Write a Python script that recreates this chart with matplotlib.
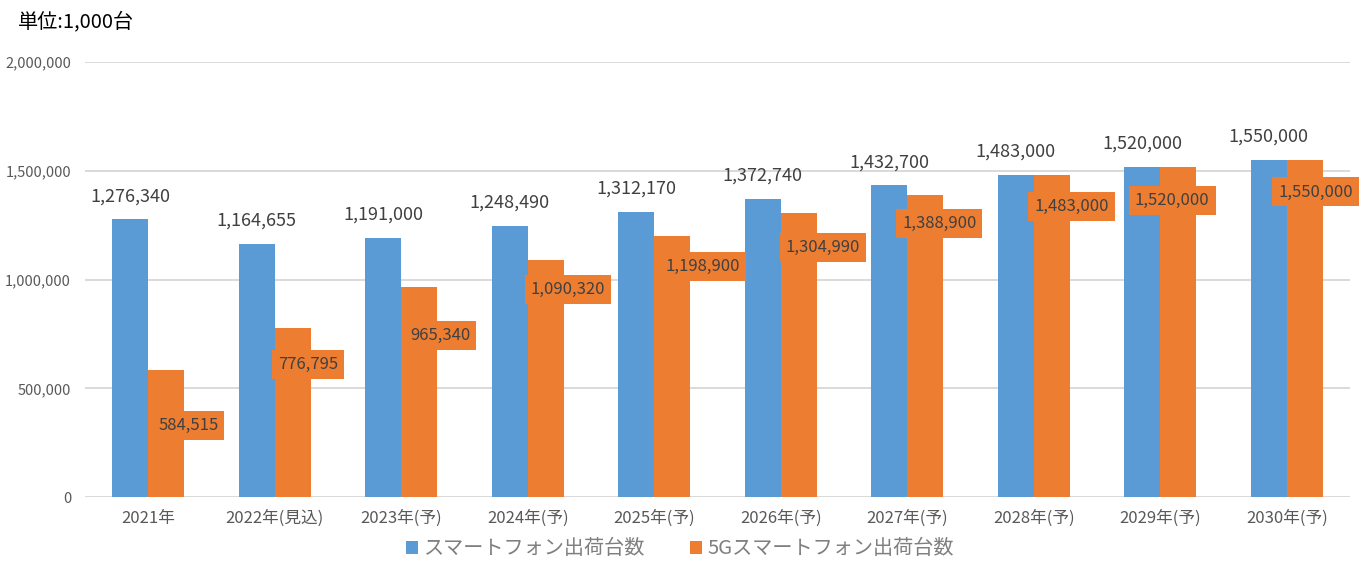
import matplotlib
matplotlib.use("Agg")
import matplotlib.pyplot as plt
from matplotlib.patches import Patch
import numpy as np

plt.rcParams['font.family'] = ['Noto Sans CJK JP', 'DejaVu Sans']

categories = ["2021年", "2022年(見込)", "2023年(予)", "2024年(予)", "2025年(予)",
              "2026年(予)", "2027年(予)", "2028年(予)", "2029年(予)", "2030年(予)"]
smartphone = [1276340, 1164655, 1191000, 1248490, 1312170,
              1372740, 1432700, 1483000, 1520000, 1550000]
smartphone_5g = [584515, 776795, 965340, 1090320, 1198900,
                 1304990, 1388900, 1483000, 1520000, 1550000]
series_names = ["スマートフォン出荷台数", "5Gスマートフォン出荷台数"]
unit_text = "単位:1,000台"

# label placement offsets (pixels) for the orange data labels (style)
lab_dx = [22, 15, 21, 22, 31, 24, 14, 20, -6, 11]
lab_dy = [-56, -36, -48, -30, -30, -34, -28, -32, -34, -32]

BLUE = "#5B9BD5"
ORANGE = "#ED7D31"
GRID = "#D9D9D9"
TXT = "#404040"
TICK = "#595959"

fig = plt.figure(figsize=(13.6, 5.7), dpi=100)
ax = fig.add_axes([0.0625, 0.128, 0.9301, 0.763])

x = np.arange(len(categories))
w = 0.285
b1 = ax.bar(x - w / 2, smartphone, width=w, color=BLUE, zorder=2)
b2 = ax.bar(x + w / 2, smartphone_5g, width=w, color=ORANGE, zorder=2)

for xi, v in zip(x, smartphone):
    ax.annotate(f"{v:,}", (xi - w / 2, v), xytext=(0, 23), textcoords="offset pixels",
                ha="center", va="center", fontsize=13, color=TXT, zorder=4)

for xi, v, dx, dy in zip(x, smartphone_5g, lab_dx, lab_dy):
    ax.annotate(f"{v:,}", (xi + w / 2, v), xytext=(dx, dy), textcoords="offset pixels",
                ha="center", va="center", fontsize=12, color=TXT, zorder=5,
                bbox=dict(boxstyle="square,pad=0.36", fc=ORANGE, ec="none"))

ax.set_xlim(-0.5, len(categories) - 0.5)
ax.set_ylim(0, 2000000)
ax.set_yticks([0, 500000, 1000000, 1500000, 2000000])
ax.set_yticklabels([f"{int(t):,}" for t in ax.get_yticks()])
ax.set_xticks(x)
ax.set_xticklabels(categories)
ax.tick_params(axis="y", length=0, labelsize=10.5, labelcolor=TICK, pad=10)
ax.tick_params(axis="x", length=0, labelsize=12, labelcolor=TICK, pad=9)
ax.grid(axis="y", color=GRID, linewidth=1.4, zorder=0)
ax.set_axisbelow(True)
for s in ax.spines.values():
    s.set_visible(False)

fig.text(18 / 1360, 1 - 22 / 570, unit_text, fontsize=14.5, color="#000000",
         ha="left", va="center")

handles = [Patch(facecolor=BLUE, edgecolor="none"), Patch(facecolor=ORANGE, edgecolor="none")]
fig.legend(handles, series_names, loc="center", bbox_to_anchor=(0.5, 1 - 549 / 570),
           ncol=2, frameon=False, fontsize=14.5, labelcolor="#7F7F7F",
           handlelength=0.6, handleheight=0.6, handletextpad=0.3, columnspacing=2.2)

fig.savefig("out.png", dpi=100)
